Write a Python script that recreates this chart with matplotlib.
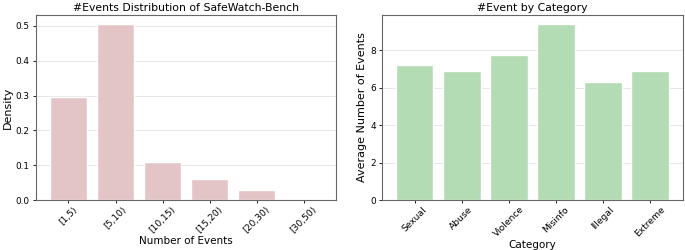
import numpy as np
import matplotlib
matplotlib.use('Agg')
import matplotlib.pyplot as plt

# datos
bins = ['[1,5)', '[5,10)', '[10,15)', '[15,20)', '[20,30)', '[30,50)']
density = [0.296, 0.506, 0.108, 0.059, 0.030, 0.001]

categories = ['Sexual', 'Abuse', 'Violence', 'Misinfo', 'Illegal', 'Extreme']
avg_events = [7.2, 6.9, 7.75, 9.42, 6.31, 6.9]

fig = plt.figure(figsize=(6.85, 2.5), dpi=100)
ax1 = fig.add_axes([0.0526, 0.2, 0.438, 0.74])
ax2 = fig.add_axes([0.5577, 0.2, 0.439, 0.74])

# izquierda
ax1.bar(bins, density, color='#e4c5c7', edgecolor='white', width=0.8)
ax1.set_title('#Events Distribution of SafeWatch-Bench', fontsize=7.8, pad=3)
ax1.set_xlabel('Number of Events', fontsize=7.5, labelpad=1)
ax1.set_ylabel('Density', fontsize=8, labelpad=2)

# derecha
ax2.bar(categories, avg_events, color='#b4dcb4', edgecolor='white', width=0.8)
ax2.set_title('#Event by Category', fontsize=7.8, pad=3)
ax2.set_xlabel('Category', fontsize=7.5, labelpad=1)
ax2.set_ylabel('Average Number of Events', fontsize=8, labelpad=2)

for ax in (ax1, ax2):
    ax.grid(axis='y', color='#e3e3e3', linewidth=0.6)
    ax.set_axisbelow(True)
    ax.tick_params(axis='y', labelsize=6.4, length=2.5, width=0.6, pad=2)
    ax.tick_params(axis='x', labelsize=6.6, length=2.5, width=0.6, pad=1, rotation=45)
    for s in ax.spines.values():
        s.set_color('#666666')
        s.set_linewidth(0.8)

fig.savefig('out.png', dpi=100)
